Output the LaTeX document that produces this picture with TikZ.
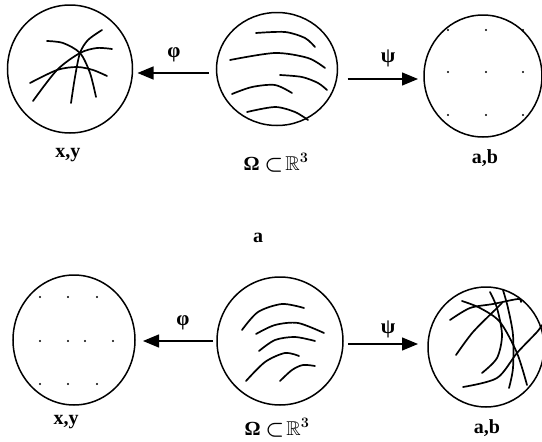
\documentclass[tikz,border=0pt]{standalone}
\usepackage{amssymb}
\usepackage{bm}
\usepackage{fontspec}
\setmainfont{Liberation Serif}
\usetikzlibrary{shapes.geometric,arrows.meta}
\begin{document}
\begin{tikzpicture}[x=1pt,y=-1pt,
  blob/.style={draw,ellipse,line width=1.5pt,inner sep=0pt,outer sep=0pt},
  crv/.style={line width=1.7pt,line cap=round},
  arr/.style={line width=1.4pt,-{Triangle[length=16pt,width=13pt]}},
  lbl/.style={font=\fontsize{20}{22}\selectfont\bfseries,anchor=base,inner sep=0pt},
  glab/.style={font=\fontsize{21}{23}\selectfont\bfseries,inner sep=0pt},
  pt/.style={fill,circle,inner sep=0pt,minimum size=2.4pt}]
\useasboundingbox (0,0) rectangle (542,442);
\clip (0,0) rectangle (542,442);
% ---- top row ----
\node[blob,minimum width=125pt,minimum height=128pt] (L1) at (70,69) {};
\node[blob,minimum width=121pt,minimum height=113pt] (C1) at (277,69) {};
\node[blob,minimum width=118pt,minimum height=122pt] (R1) at (483,76) {};
\draw[arr,shorten <=8pt,shorten >=5pt] (C1.west |- 0,73) -- (L1.east |- 0,73);
\draw[arr,shorten <=10pt,shorten >=6pt] (C1.east |- 0,79) -- (R1.west |- 0,79);
\node[glab] (phi1) at (174,55) {φ};
\node[glab] (psi1) at (388,58) {ψ};
\node[lbl] (lx1) at (68,157) {x,y};
\node[lbl] (lo1) at (276,170) {Ω $\bm{\subset}\!\mathbb{R}^{\bm{3}}$};
\node[lbl] (la1) at (485,163) {a,b};
% curves top-left
\draw[crv] plot[smooth] coordinates {(47,41) (63,43) (80,53) (90,73) (96,97)};
\draw[crv] plot[smooth] coordinates {(102,30) (88,40) (80,53) (75,77) (71,103)};
\draw[crv] plot[smooth] coordinates {(112,49) (97,48) (80,53) (57,70) (33,101)};
\draw[crv] plot[smooth] coordinates {(30,83) (57,70) (77,67) (93,70) (107,76)};
% curves top-center
\draw[crv] plot[smooth] coordinates {(256,33) (285,32) (305,38) (315,47)};
\draw[crv] plot[smooth] coordinates {(230,60) (275,53) (308,58) (325,68)};
\draw[crv] plot[smooth] coordinates {(280,75) (302,77) (318,83) (327,90)};
\draw[crv] plot[smooth] coordinates {(232,94) (252,87) (275,85) (292,93)};
\draw[crv] plot[smooth] coordinates {(247,112) (275,107) (295,112) (308,120)};
% dots top-right
\foreach \xx in {448,486,523}{\foreach \yy in {30,72,115}{\node[pt] at (\xx,\yy) {};}}
% ---- label a ----
\node[lbl] (mid) at (258,242) {a};
% ---- bottom row ----
\node[blob,minimum width=122pt,minimum height=130pt] (L2) at (74,340) {};
\node[blob,minimum width=126pt,minimum height=128pt] (C2) at (280,341) {};
\node[blob,minimum width=116pt,minimum height=120pt] (R2) at (486,347) {};
\draw[arr,shorten <=4pt,shorten >=8pt] (C2.west |- 0,341) -- (L2.east |- 0,341);
\draw[arr,shorten <=5pt,shorten >=10pt] (C2.east |- 0,344) -- (R2.west |- 0,344);
\node[glab] (phi2) at (183,323) {φ};
\node[glab] (psi2) at (388,329) {ψ};
\node[lbl] (lx2) at (66,424) {x,y};
\node[lbl] (lo2) at (277,435) {Ω $\bm{\subset}\!\mathbb{R}^{\bm{3}}$};
\node[lbl] (la2) at (487,433) {a,b};
% dots bottom-left
\foreach \xx in {40,68,97}{\node[pt] at (\xx,297) {};\node[pt] at (\xx,384) {};}
\foreach \xx in {40,68,85,113}{\node[pt] at (\xx,341) {};}
% curves bottom-center
\draw[crv] plot[smooth] coordinates {(242,330) (258,312) (282,304) (304,308)};
\draw[crv] plot[smooth] coordinates {(256,334) (275,325) (298,323) (324,333)};
\draw[crv] plot[smooth] coordinates {(259,351) (275,340) (295,337) (315,341)};
\draw[crv] plot[smooth] coordinates {(246,381) (265,362) (285,353) (299,356)};
\draw[crv] plot[smooth] coordinates {(280,381) (292,370) (303,365) (315,366)};
% curves bottom-right
\draw[crv] plot[smooth] coordinates {(462,301) (480,308) (500,322) (517,353) (527,385)};
\draw[crv] plot[smooth] coordinates {(450,320) (470,308) (493,304) (518,299) (521,302)};
\draw[crv] plot[smooth] coordinates {(490,292) (497,308) (502,335) (497,358) (482,373)};
\draw[crv] plot[smooth] coordinates {(503,290) (508,308) (513,335) (513,368) (509,388)};
\draw[crv] plot[smooth] coordinates {(456,355) (473,332) (497,308) (502,303)};
\draw[crv] plot[smooth] coordinates {(463,387) (497,378) (517,353) (537,332) (542,325)};
\end{tikzpicture}
\end{document}
